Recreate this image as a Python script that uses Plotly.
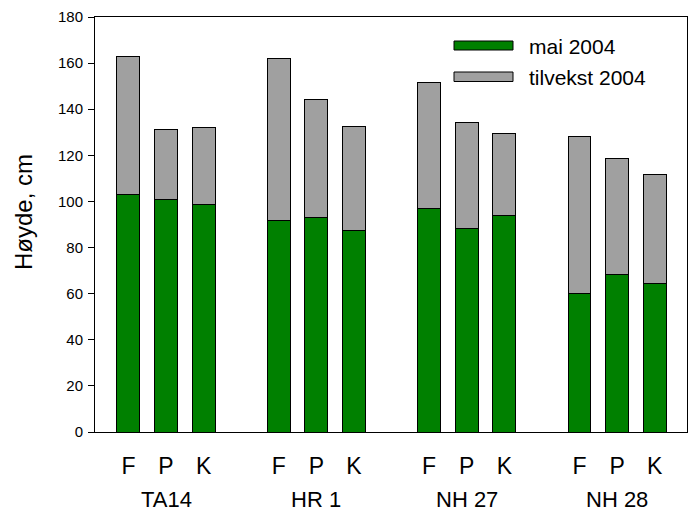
import plotly.graph_objects as go

# ---- data ----
groups = ["TA14", "HR 1", "NH 27", "NH 28"]
treatments = ["F", "P", "K"]
mai_2004 = [103.2, 100.9, 98.8, 91.8, 93.1, 87.6, 97.0, 88.3, 94.1, 60.1, 68.4, 64.2]
total_2004 = [162.8, 131.3, 132.0, 162.2, 144.1, 132.7, 151.8, 134.2, 129.5, 128.2, 118.5, 111.6]
series_names = ["mai 2004", "tilvekst 2004"]
y_ticks = [0, 20, 40, 60, 80, 100, 120, 140, 160, 180]
y_title = "Høyde, cm"

tilvekst_2004 = [round(t - m, 1) for t, m in zip(total_2004, mai_2004)]

# positions: groups separated by one empty slot
xpos = []
xlab = []
for gi, g in enumerate(groups):
    for ti, t in enumerate(treatments):
        xpos.append(gi * 4 + ti)
        xlab.append(t)

GREEN = "#008000"
GRAY = "#A0A0A0"
FONT = "Liberation Sans, Arial, sans-serif"

fig = go.Figure()
fig.add_trace(go.Bar(x=xpos, y=mai_2004, name=series_names[0], width=0.61,
                     marker=dict(color=GREEN, line=dict(color="black", width=1)),
                     showlegend=False))
fig.add_trace(go.Bar(x=xpos, y=tilvekst_2004, name=series_names[1], width=0.61,
                     marker=dict(color=GRAY, line=dict(color="black", width=1)),
                     showlegend=False))

# plot area in pixels: x 95..687, y 17..432
L, R, T, B = 95, 687, 17, 432
W, H = R - L, B - T
def px(x):
    return (x - L) / W
def py(y):
    return (B - y) / H

shapes = []
annotations = []
legend_rows = [(41, 50, 46, GREEN), (72, 81.5, 77, GRAY)]
for name, (top, bot, mid, col) in zip(series_names, legend_rows):
    shapes.append(dict(type="rect", xref="paper", yref="paper",
                       x0=px(454), x1=px(513), y0=py(bot), y1=py(top),
                       fillcolor=col, line=dict(color="black", width=1)))
    annotations.append(dict(text=name, xref="paper", yref="paper",
                            x=px(527), y=py(mid), xanchor="left", yanchor="middle",
                            showarrow=False, font=dict(size=21, color="black", family=FONT)))

for gi, g in enumerate(groups):
    annotations.append(dict(text=g, xref="x", yref="paper", x=gi * 4 + 1, y=py(514),
                            xanchor="center", yanchor="bottom", showarrow=False,
                            font=dict(size=22, color="black", family=FONT)))

annotations.append(dict(text=y_title, xref="paper", yref="paper", x=px(24), y=py(212),
                        xanchor="center", yanchor="middle", textangle=-90, showarrow=False,
                        font=dict(size=24, color="black", family=FONT)))

fig.update_layout(
    barmode="stack",
    width=691, height=515,
    margin=dict(l=L, r=691 - R, t=T, b=515 - B),
    paper_bgcolor="white", plot_bgcolor="white",
    font=dict(family=FONT, color="black"),
    shapes=shapes,
    annotations=annotations,
)
fig.update_xaxes(range=[-0.89, 14.86], tickvals=xpos, ticktext=xlab, ticks="",
                 tickfont=dict(size=23, color="black", family=FONT),
                 showline=True, linecolor="black", linewidth=1, mirror=True,
                 showgrid=False, zeroline=False, ticklabelstandoff=13)
fig.update_yaxes(range=[0, 180], tickvals=y_ticks, ticks="outside", ticklen=6,
                 tickcolor="black", tickwidth=1,
                 tickfont=dict(size=15, color="black", family=FONT),
                 showline=True, linecolor="black", linewidth=1, mirror=True,
                 showgrid=False, zeroline=False, ticklabelstandoff=2)

fig.write_html("out.html", config={"displayModeBar": False},
               post_script="document.body.style.margin='0';")
